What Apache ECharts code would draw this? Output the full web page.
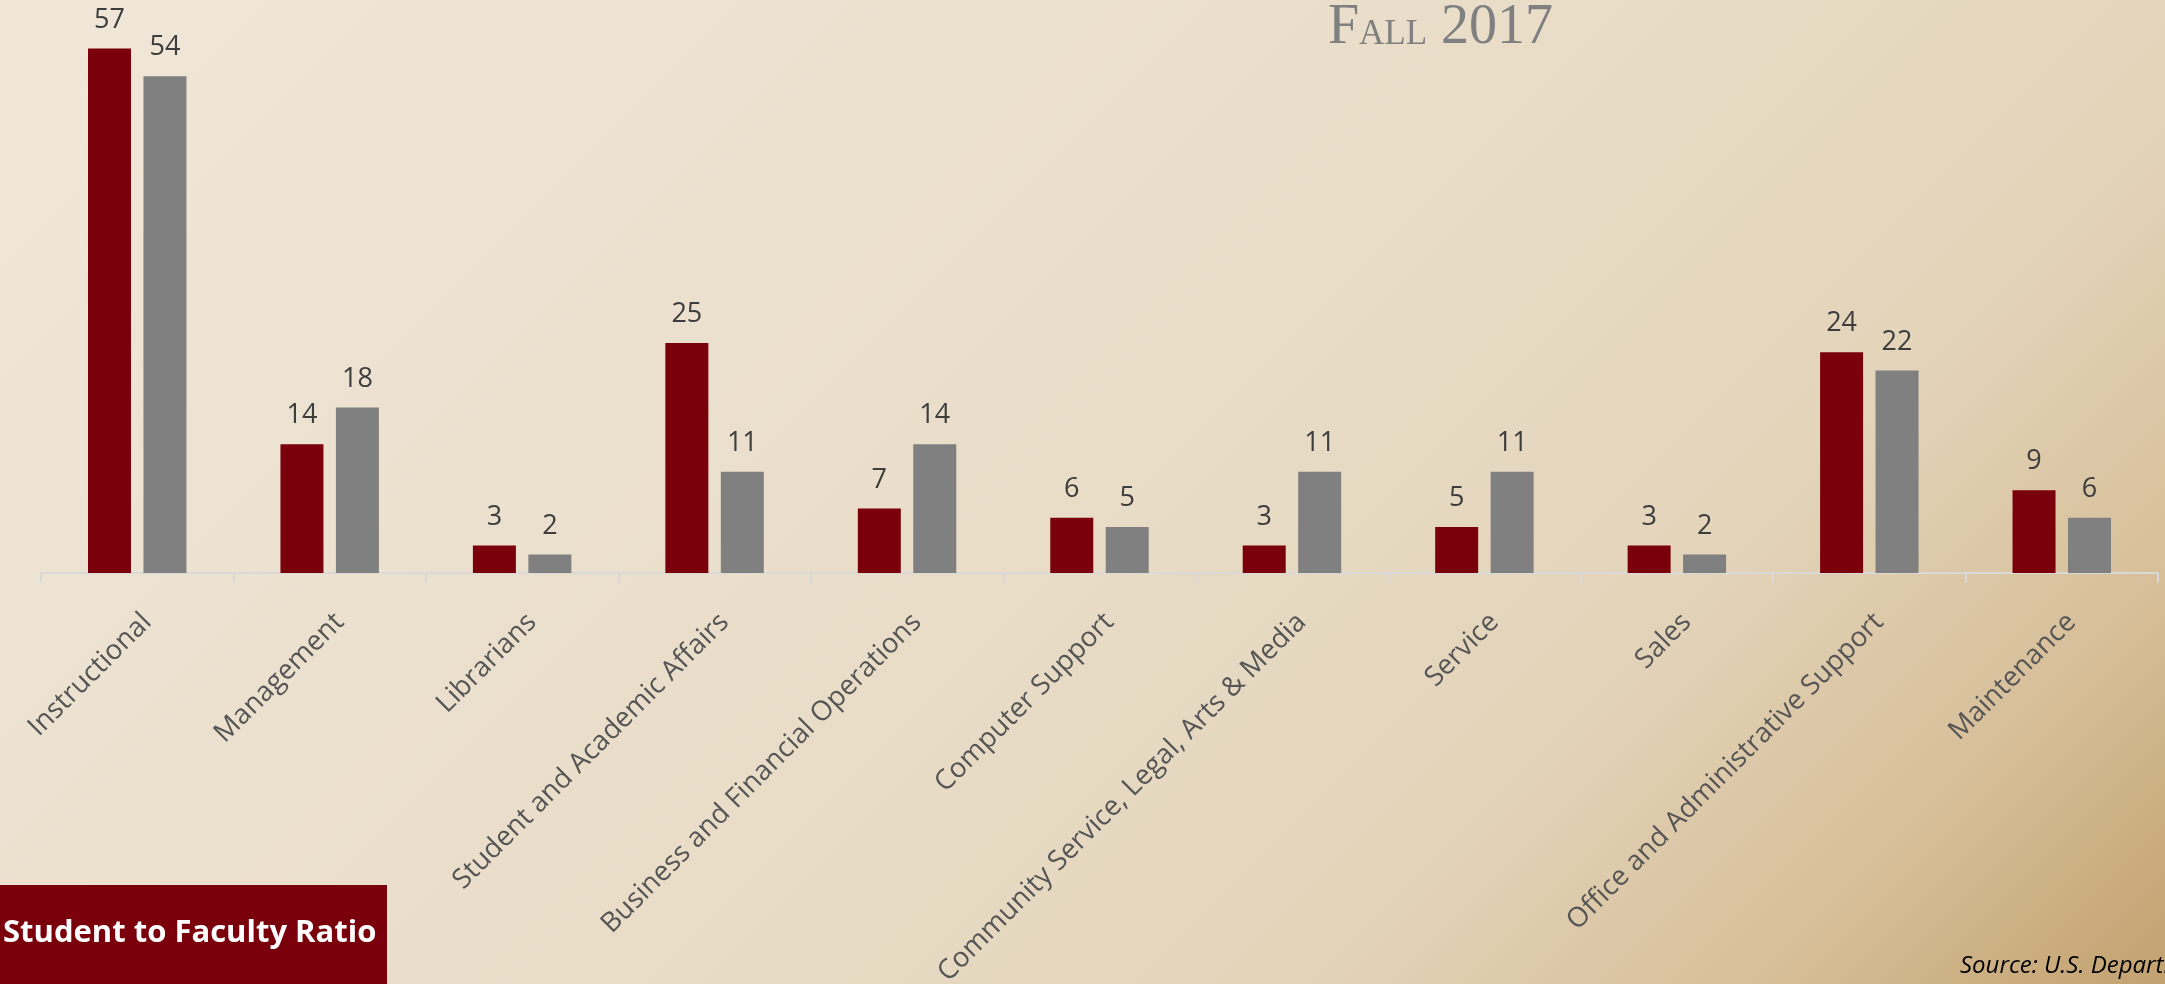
<!DOCTYPE html>
<html>
<head>
<meta charset="utf-8">
<title>Student to Faculty Ratio</title>
<script src="https://cdn.jsdelivr.net/npm/echarts@6/dist/echarts.min.js"></script>
<style>
  html, body { margin: 0; padding: 0; overflow: hidden; }
  #main { width: 2165px; height: 984px; }
</style>
</head>
<body>
<div id="main"></div>
<script type="text/javascript">
var categories = ['Instructional', 'Management', 'Librarians', 'Student and Academic Affairs',
  'Business and Financial Operations', 'Computer Support', 'Community Service, Legal, Arts & Media',
  'Service', 'Sales', 'Office and Administrative Support', 'Maintenance'];
var redSeries = [57, 14, 3, 25, 7, 6, 3, 5, 3, 24, 9];
var graySeries = [54, 18, 2, 11, 14, 5, 11, 11, 2, 22, 6];

var myChart = echarts.init(document.getElementById('main'));

var labelFont = 'Open Sans';

var option = {
  animation: false,
  backgroundColor: 'transparent',
  grid: { left: 41, right: 7, top: 21, bottom: 411, containLabel: false, outerBoundsMode: 'none' },
  xAxis: {
    type: 'category',
    data: categories,
    axisLine: { lineStyle: { color: '#d9d9d9', width: 2 } },
    axisTick: { show: true, length: 10, lineStyle: { color: '#d9d9d9', width: 2 } },
    axisLabel: {
      interval: 0,
      rotate: 45,
      margin: 35,
      verticalAlign: 'top',
      color: '#555555',
      fontSize: 27.5,
      fontFamily: labelFont
    }
  },
  yAxis: {
    type: 'value',
    min: 0,
    max: 60,
    show: false,
    splitLine: { show: false }
  },
  series: [
    {
      name: 'Series 1',
      type: 'bar',
      data: redSeries,
      barWidth: 43,
      barGap: '29%',
      itemStyle: { color: '#7a000b' },
      label: { show: true, position: 'top', distance: 15, color: '#3d3d3d', fontSize: 27, fontFamily: labelFont }
    },
    {
      name: 'Series 2',
      type: 'bar',
      data: graySeries,
      barWidth: 43,
      itemStyle: { color: '#808080' },
      label: { show: true, position: 'top', distance: 15, color: '#3d3d3d', fontSize: 27, fontFamily: labelFont }
    }
  ],
  graphic: [
    {
      type: 'rect',
      z: -10,
      silent: true,
      shape: { x: 0, y: 0, width: 2165, height: 984 },
      style: {
        fill: {
          type: 'linear', global: true, x: 0, y: 0, x2: 1575, y2: 1575,
          colorStops: [
            { offset: 0, color: '#f0e7d9' },
            { offset: 0.5, color: '#e9ddc8' },
            { offset: 0.72, color: '#e3d4ba' },
            { offset: 0.87, color: '#d7bf99' },
            { offset: 1, color: '#c2a16f' }
          ]
        }
      }
    },
    // title "Fall 2017" in small caps
    { type: 'text', x: 1328, y: 28, style: { text: 'F', fontSize: 56, fontFamily: 'Liberation Serif', fill: '#808080', verticalAlign: 'middle' } },
    { type: 'text', x: 1359, y: 35, style: { text: 'ALL', fontSize: 35, fontFamily: 'Liberation Serif', fill: '#808080', verticalAlign: 'middle' } },
    { type: 'text', x: 1441, y: 28, style: { text: '2017', fontSize: 56, fontFamily: 'Liberation Serif', fill: '#808080', verticalAlign: 'middle' } },
    // bottom-left tag
    { type: 'rect', silent: true, shape: { x: 0, y: 885, width: 387, height: 99 }, style: { fill: '#7a000b' } },
    { type: 'text', x: 3, y: 933, style: { text: 'Student to Faculty Ratio', fontSize: 31, fontWeight: 'bold', fontFamily: labelFont, fill: '#ffffff', verticalAlign: 'middle' } },
    // source line (runs off the right edge)
    { type: 'text', x: 1960, y: 966, style: { text: 'Source: U.S. Department of Education, IPEDS', fontSize: 24, fontStyle: 'italic', fontFamily: labelFont, fill: '#000000', verticalAlign: 'middle' } }
  ]
};

myChart.setOption(option);
</script>
</body>
</html>
